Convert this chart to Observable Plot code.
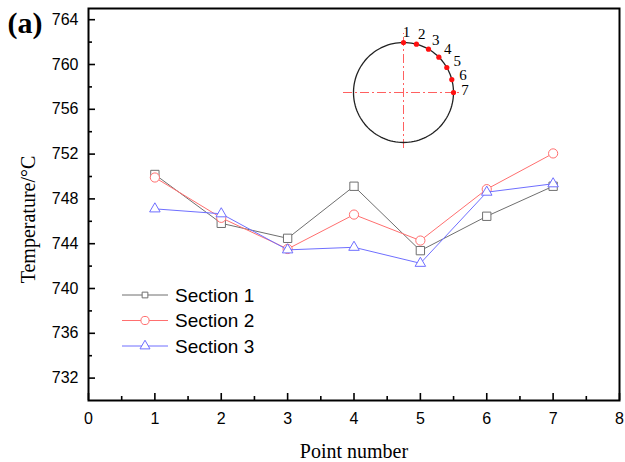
<!DOCTYPE html>
<html>
<head>
<meta charset="utf-8">
<script src="https://cdn.jsdelivr.net/npm/d3@7"></script>
<script src="https://cdn.jsdelivr.net/npm/@observablehq/plot@0.6"></script>
<style>
  body { margin: 0; background: #fff; }
  #wrap { position: relative; width: 625px; height: 462px; background: #fff; }
  #inset { position: absolute; left: 328px; top: 17px; }
</style>
</head>
<body>
<div id="wrap"></div>
<script>
// ---- data ----
const pointNumbers = [1, 2, 3, 4, 5, 6, 7];
const section1 = [750.18, 745.82, 744.48, 749.13, 743.38, 746.45, 749.13];
const section2 = [749.91, 746.31, 743.53, 746.60, 744.28, 748.87, 752.06];
const section3 = [747.11, 746.67, 743.45, 743.68, 742.25, 748.60, 749.35];
const seriesNames = ["Section 1", "Section 2", "Section 3"];
const xMajorTicks = [0, 1, 2, 3, 4, 5, 6, 7, 8];
const xMinorTicks = [0.5, 1.5, 2.5, 3.5, 4.5, 5.5, 6.5, 7.5];
const yMajorTicks = [732, 736, 740, 744, 748, 752, 756, 760, 764];
const yMinorTicks = [734, 738, 742, 746, 750, 754, 758, 762];
const probeAngles = [90, 75, 60, 45, 30, 15, 0];
const probeLabels = ["1", "2", "3", "4", "5", "6", "7"];

// ---- styles ----
const seriesColors = ["#6f6f6f", "#ff6f6f", "#6f6fff"];
const seriesSymbols = ["square", "circle", "triangle"];
const seriesRadii = [4.7, 4.6, 3.9];
const serif = "'Liberation Serif', 'Times New Roman', serif";

const allSeries = [section1, section2, section3];
const rows = [];
allSeries.forEach((vals, i) => vals.forEach((v, j) =>
  rows.push({series: seriesNames[i], point: pointNumbers[j], temp: v})));

const seriesMarks = [];
seriesNames.forEach((name, i) => {
  const data = rows.filter(d => d.series === name);
  seriesMarks.push(Plot.line(data, {x: "point", y: "temp", stroke: seriesColors[i], strokeWidth: 1}));
  seriesMarks.push(Plot.dot(data, {x: "point", y: "temp", stroke: seriesColors[i], symbol: () => seriesSymbols[i],
    r: seriesRadii[i], fill: "white", strokeWidth: 1}));
});

const chart = Plot.plot({
  width: 625,
  height: 462,
  marginLeft: 88,
  marginRight: 6,
  marginTop: 8,
  marginBottom: 62,
  style: {fontFamily: "'Liberation Sans', Arial, sans-serif", fontSize: "16px", color: "#000", background: "#fff", overflow: "visible"},
  x: {domain: [0, 8]},
  y: {domain: [730, 765]},
  symbol: {domain: seriesSymbols, range: seriesSymbols},
  marks: [
    ...seriesMarks,
    // tick marks (inside)
    Plot.axisX({ticks: xMajorTicks, tickSize: -7, fill: "none", label: null, strokeWidth: 1.6}),
    Plot.axisX({ticks: xMinorTicks, tickSize: -4, fill: "none", label: null, strokeWidth: 1.6}),
    Plot.axisY({ticks: yMajorTicks, tickSize: -7, fill: "none", label: null, strokeWidth: 1.6}),
    Plot.axisY({ticks: yMinorTicks, tickSize: -4, fill: "none", label: null, strokeWidth: 1.6}),
    // tick labels
    Plot.axisX({ticks: xMajorTicks, tickSize: 0, tickPadding: 12, label: null, tickFormat: d => String(d)}),
    Plot.axisY({ticks: yMajorTicks, tickSize: 0, tickPadding: 10, label: null, tickFormat: d => String(d)}),
    Plot.frame({stroke: "#000", strokeWidth: 2}),
    Plot.text(["Point number"], {frameAnchor: "bottom", dy: 51, lineAnchor: "middle", textAnchor: "middle",
      text: d => d, fontFamily: serif, fontSize: 20}),
    Plot.text(["Temperature/°C"], {frameAnchor: "left", dx: -60, dy: 15, rotate: -90, textAnchor: "middle", lineAnchor: "middle",
      text: d => d, fontFamily: serif, fontSize: 20}),
    Plot.text(["(a)"], {frameAnchor: "top-left", dx: -81, dy: 24, lineAnchor: "bottom", textAnchor: "start", text: d => d,
      fontFamily: serif, fontSize: 30, fontWeight: "bold"})
  ]
});

// legend
const svg = d3.select(chart);
const lg = svg.append("g").attr("text-anchor", "start");
const d3Symbols = [d3.symbolSquare, d3.symbolCircle, d3.symbolTriangle];
const legendSizes = [33, 52, 43];
seriesNames.forEach((name, i) => {
  const y = 295 + i * 25.5;
  lg.append("line").attr("x1", 122).attr("x2", 168).attr("y1", y).attr("y2", y)
    .attr("stroke", seriesColors[i]).attr("stroke-width", 1);
  lg.append("path").attr("d", d3.symbol().type(d3Symbols[i]).size(legendSizes[i])())
    .attr("transform", `translate(145,${y})`).attr("fill", "white").attr("stroke", seriesColors[i]).attr("stroke-width", 1);
  lg.append("text").attr("x", 175).attr("y", y).attr("dy", "0.36em").attr("font-size", 19)
    .attr("text-anchor", "start").attr("fill", "#000").text(name);
});

document.getElementById("wrap").appendChild(chart);

// inset schematic
const rad = a => a * Math.PI / 180;
const circleAngles = d3.range(0, 361, 3);
const inset = Plot.plot({
  width: 150,
  height: 150,
  margin: 0,
  x: {domain: [-1.5, 1.5], axis: null},
  y: {domain: [-1.5, 1.5], axis: null},
  style: {background: "transparent", overflow: "visible"},
  marks: [
    Plot.ruleY([0], {x1: -1.2, x2: 1.18, stroke: "#ff6060", strokeWidth: 1, strokeDasharray: "9,3,2,3"}),
    Plot.ruleX([0], {y1: -1.12, y2: 1.18, stroke: "#ff6060", strokeWidth: 1, strokeDasharray: "9,3,2,3"}),
    Plot.line(circleAngles, {x: a => Math.cos(rad(a)), y: a => Math.sin(rad(a)), stroke: "#222", strokeWidth: 1.3}),
    Plot.dot(probeAngles, {x: a => Math.cos(rad(a)), y: a => Math.sin(rad(a)), r: 2.6, fill: "#ff1010"}),
    Plot.text(probeAngles, {x: a => 1.17 * Math.cos(rad(a)), y: a => 1.17 * Math.sin(rad(a)),
      text: (a, i) => probeLabels[i], dx: 3, dy: -2, fontFamily: serif, fontSize: 15, fill: "#000"})
  ]
});
inset.id = "inset";
document.getElementById("wrap").appendChild(inset);
</script>
</body>
</html>
